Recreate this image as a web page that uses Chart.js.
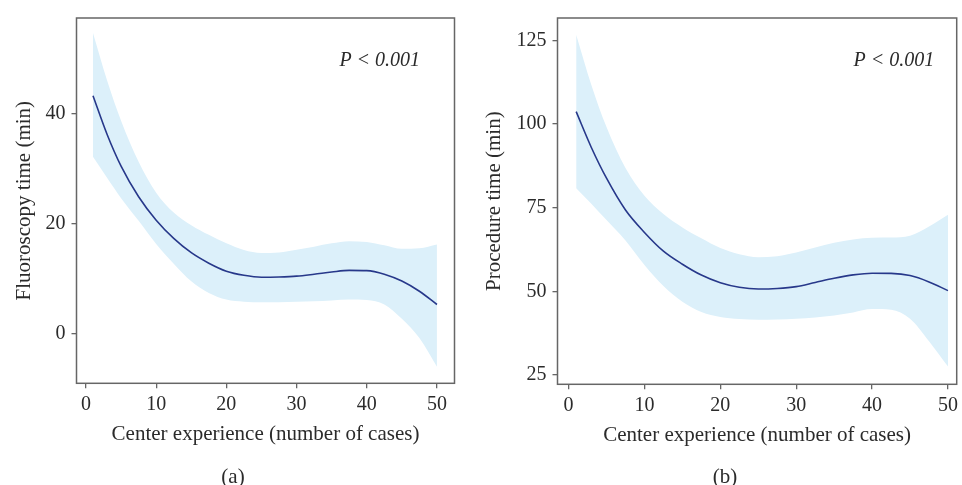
<!DOCTYPE html>
<html>
<head>
<meta charset="utf-8">
<script src="https://cdn.jsdelivr.net/npm/chart.js@4.4.1/dist/chart.umd.min.js"></script>
<style>
  body { margin: 0; background: #fff; }
  #wrap { position: relative; width: 962px; height: 485px; overflow: hidden; }
  canvas { position: absolute; top: 0; }
  .cap { position: absolute; font: 21px "Liberation Serif", serif; color: #2b2b2b; transform: translateX(-50%); }
</style>
</head>
<body>
<div id="wrap">
  <canvas id="chartA" width="481" height="485" style="left:0"></canvas>
  <canvas id="chartB" width="481" height="485" style="left:481px"></canvas>
  <div class="cap" style="left:233px; top:464px">(a)</div>
  <div class="cap" style="left:725px; top:464px">(b)</div>
</div>
<script>
// shared x grid (center experience, number of cases)
const cases = [1, 3, 5, 7.5, 10, 12.5, 15, 17.5, 20, 22.5, 25, 27.5, 30, 32.5, 35, 37.5, 40, 42.5, 45, 47.5, 50];
const xTicks = [0, 10, 20, 30, 40, 50];

// (a) fluoroscopy time
const fluoroFit   = [43.2, 36.2, 30.4, 24.85, 20.6, 17.3, 14.7, 12.8, 11.35, 10.6, 10.25, 10.3, 10.45, 10.8, 11.2, 11.5, 11.45, 10.8, 9.55, 7.7, 5.3];
const fluoroUpper = [54.6, 46.0, 38.65, 31.2, 25.6, 22.0, 19.7, 17.95, 16.4, 15.2, 14.65, 14.75, 15.25, 15.8, 16.4, 16.8, 16.65, 16.05, 15.4, 15.5, 16.2];
const fluoroLower = [32.1, 28.3, 24.6, 20.5, 16.3, 12.7, 9.5, 7.4, 6.2, 5.8, 5.7, 5.7, 5.8, 5.9, 6.05, 6.2, 6.1, 5.3, 2.7, -0.8, -6.0];
const fluoroTicks = [0, 20, 40];

// (b) procedure time
const procFit   = [103.7, 93.0, 83.8, 74.3, 67.6, 62.0, 58.1, 54.85, 52.55, 51.2, 50.7, 50.85, 51.4, 52.65, 53.9, 54.9, 55.4, 55.35, 54.7, 52.8, 50.2];
const procUpper = [126.7, 111.7, 99.1, 86.85, 78.6, 73.1, 69.1, 65.85, 62.95, 61.1, 60.2, 60.5, 61.6, 63.1, 64.5, 65.5, 66.0, 66.05, 66.6, 69.4, 72.9];
const procLower = [80.8, 76.2, 71.3, 65.2, 57.9, 51.6, 46.9, 43.8, 42.3, 41.7, 41.5, 41.6, 41.8, 42.2, 42.8, 43.7, 44.7, 44.5, 41.8, 35.1, 27.5];
const procTicks = [25, 50, 75, 100, 125];

const pLabel = 'P < 0.001';
const xTitle = 'Center experience (number of cases)';

const textColor = '#2b2b2b';
const axisColor = '#666';
const lineColor = '#27388a';
const bandColor = '#dcf0fa';
const serif = '"Liberation Serif", "DejaVu Serif", serif';

const pts = arr => cases.map((x, i) => ({ x: x, y: arr[i] }));

// frame around plot area + p-value label
const boxPlugin = {
  id: 'box',
  afterDraw(chart, args, opts) {
    const { ctx, chartArea: a, scales } = chart;
    ctx.save();
    ctx.strokeStyle = axisColor;
    ctx.lineWidth = 1.5;
    ctx.strokeRect(a.left, a.top, a.right - a.left, a.bottom - a.top);
    ctx.fillStyle = textColor;
    ctx.font = 'italic 20px ' + serif;
    ctx.textAlign = 'right';
    ctx.textBaseline = 'alphabetic';
    ctx.fillText(pLabel, scales.x.getPixelForValue(opts.px), a.top + 48);
    ctx.restore();
  }
};

function makeChart(id, fit, upper, lower, yTicks, yTitle, ymin, ymax, xmin, xmax, pad, titlePad, px) {
  return new Chart(document.getElementById(id), {
    type: 'line',
    data: {
      datasets: [
        { data: pts(fit), borderColor: lineColor, borderWidth: 1.6, pointRadius: 0, fill: false, cubicInterpolationMode: 'monotone' },
        { data: pts(upper), borderWidth: 0, borderColor: 'rgba(0,0,0,0)', pointRadius: 0, backgroundColor: bandColor, fill: '+1', cubicInterpolationMode: 'monotone' },
        { data: pts(lower), borderWidth: 0, borderColor: 'rgba(0,0,0,0)', pointRadius: 0, fill: false, cubicInterpolationMode: 'monotone' }
      ]
    },
    options: {
      responsive: false,
      animation: false,
      layout: { padding: pad },
      plugins: { legend: { display: false }, tooltip: { enabled: false }, box: { px: px } },
      scales: {
        x: {
          type: 'linear', min: xmin, max: xmax,
          afterBuildTicks: s => { s.ticks = xTicks.map(v => ({ value: v })); },
          afterFit: s => { s.height = 64; },
          grid: { drawOnChartArea: false, tickLength: 5, color: axisColor, lineWidth: 1.3 },
          border: { display: false },
          ticks: { color: textColor, font: { family: serif, size: 20 }, padding: 4 },
          title: { display: true, text: xTitle, color: textColor, font: { family: serif, size: 21 }, padding: 0 }
        },
        y: {
          type: 'linear', min: ymin, max: ymax,
          afterBuildTicks: s => { s.ticks = yTicks.map(v => ({ value: v })); },
          afterFit: s => { s.width = 76.5 - pad.left; },
          grid: { drawOnChartArea: false, tickLength: 5, color: axisColor, lineWidth: 1.3 },
          border: { display: false },
          ticks: { color: textColor, font: { family: serif, size: 20 }, padding: 6 },
          title: { display: true, text: yTitle, color: textColor, font: { family: serif, size: 21 }, padding: { top: titlePad, bottom: 0 } }
        }
      }
    },
    plugins: [boxPlugin]
  });
}

makeChart('chartA', fluoroFit, fluoroUpper, fluoroLower, fluoroTicks, 'Fluoroscopy time (min)',
  -9.0, 57.3, -1.35, 52.5, { left: 0, top: 12, right: 26.5, bottom: 485 - 383.3 - 64 }, 12, 47.6);
makeChart('chartB', procFit, procUpper, procLower, procTicks, 'Procedure time (min)',
  22.2, 131.7, -1.46, 51.15, { left: 0, top: 6, right: 1, bottom: 485 - 384.3 - 64 }, 1, 48.2);
</script>
</body>
</html>
